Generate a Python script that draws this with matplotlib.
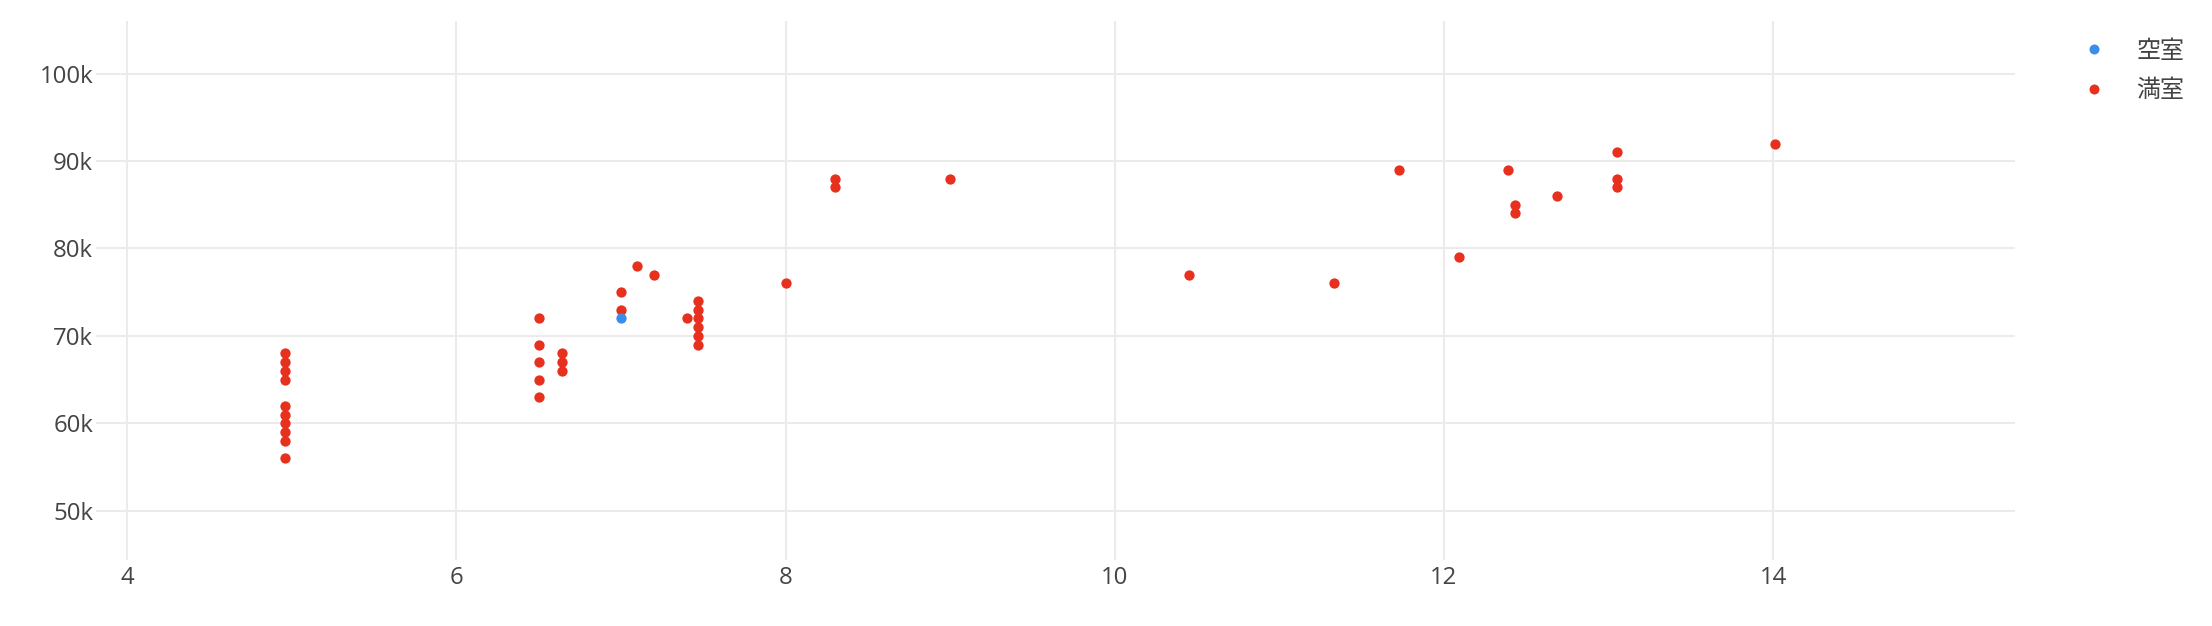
import matplotlib
matplotlib.use("Agg")
import matplotlib.pyplot as plt
from matplotlib.ticker import FuncFormatter, FixedLocator
from matplotlib.lines import Line2D

# ---- data ----
vacant_x = [7.0]
vacant_y = [72000]

full_x = [4.96, 4.96, 4.96, 4.96, 4.96, 4.96, 4.96, 4.96, 4.96, 4.96,
          6.5, 6.5, 6.5, 6.5, 6.5,
          6.64, 6.64, 6.64,
          7.0, 7.0,
          7.1, 7.2, 7.4,
          7.47, 7.47, 7.47, 7.47, 7.47, 7.47,
          8.0, 8.3, 8.3, 9.0,
          10.45, 11.33, 11.73, 12.09, 12.39, 12.43, 12.43, 12.69,
          13.05, 13.05, 13.05, 14.01]
full_y = [68000, 67000, 66000, 65000, 62000, 61000, 60000, 59000, 58000, 56000,
          72000, 69000, 67000, 65000, 63000,
          68000, 67000, 66000,
          75000, 73000,
          78000, 77000, 72000,
          74000, 73000, 72000, 71000, 70000, 69000,
          76000, 88000, 87000, 88000,
          77000, 76000, 89000, 79000, 89000, 85000, 84000, 86000,
          91000, 88000, 87000, 92000]

series_labels = ["空室", "満室"]
x_ticks = [4, 6, 8, 10, 12, 14]
y_ticks = [50000, 60000, 70000, 80000, 90000, 100000]

BLUE = "#3C8DEB"
RED = "#E8301F"
TEXT = "#444444"
GRID = "#EBEBEB"

plt.rcParams['font.family'] = ['Open Sans', 'Noto Sans CJK JP', 'DejaVu Sans']

fig = plt.figure(figsize=(22.12, 6.26), dpi=100)
ax = fig.add_axes([96/2212, 1-560/626, (2015-96)/2212, (560-20.7)/626])

ms = 55
ax.scatter(full_x, full_y, s=ms, color=RED, linewidths=0, zorder=3)
ax.scatter(vacant_x, vacant_y, s=ms, color=BLUE, linewidths=0, zorder=4)

ax.set_xlim(3.81, 15.47)
ax.set_ylim(44370, 106050)

ax.xaxis.set_major_locator(FixedLocator(x_ticks))
ax.yaxis.set_major_locator(FixedLocator(y_ticks))
ax.yaxis.set_major_formatter(FuncFormatter(lambda v, p: f"{v/1000:.0f}k"))
ax.xaxis.set_major_formatter(FuncFormatter(lambda v, p: f"{v:g}"))

ax.grid(True, color=GRID, linewidth=1.45, zorder=0)
ax.set_axisbelow(True)
for s in ax.spines.values():
    s.set_visible(False)
ax.tick_params(axis='both', length=0, labelsize=17.3, labelcolor=TEXT)
ax.tick_params(axis='x', pad=4)
ax.tick_params(axis='y', pad=2)

handles = [Line2D([], [], linestyle='none', marker='o', markersize=7.2,
                  markerfacecolor=BLUE, markeredgewidth=0),
           Line2D([], [], linestyle='none', marker='o', markersize=7.2,
                  markerfacecolor=RED, markeredgewidth=0)]
fig.legend(handles, series_labels, loc='upper left',
           bbox_to_anchor=(2082/2212, 1-37.5/626), frameon=False,
           borderpad=0, borderaxespad=0, handlelength=1.0, handletextpad=1.25,
           labelspacing=0.58, prop={'family': ['Noto Sans CJK JP', 'DejaVu Sans'], 'size': 17.3},
           labelcolor=TEXT)

fig.savefig("out.png", dpi=100, facecolor="white")
